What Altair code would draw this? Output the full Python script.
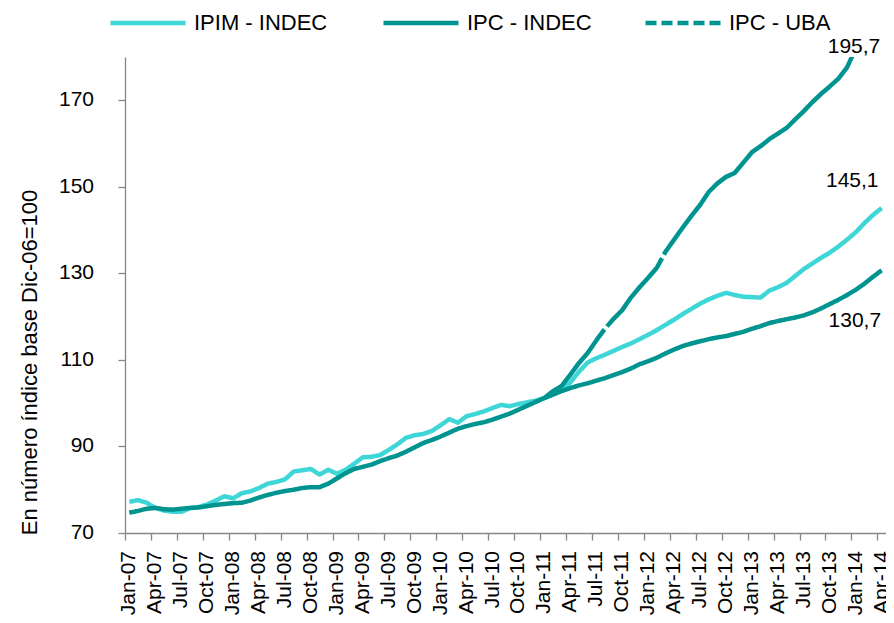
import json
import altair as alt
import pandas as pd

# ---------------- data ----------------
month_names = ["Jan", "Feb", "Mar", "Apr", "May", "Jun", "Jul", "Aug", "Sep", "Oct", "Nov", "Dec"]
years = ["07", "08", "09", "10", "11", "12", "13", "14"]
month_labels = [f"{m}-{y}" for y in years for m in month_names][:88]  # Jan-07 .. Apr-14

series_names = ["IPIM - INDEC", "IPC - INDEC", "IPC - UBA"]

ipim = [77.2, 77.6, 77.0, 75.8, 75.2, 74.9, 74.9, 75.7, 76.0, 76.6, 77.5, 78.5,
        78.0, 79.2, 79.6, 80.4, 81.4, 81.8, 82.4, 84.2, 84.5, 84.8, 83.5, 84.6,
        83.7, 84.6, 86.0, 87.5, 87.6, 88.0, 89.2, 90.5, 92.0, 92.6, 92.9, 93.6,
        94.9, 96.3, 95.5, 97.0, 97.5, 98.1, 98.9, 99.6, 99.3, 99.8, 100.2, 100.6,
        101.2, 102.0, 102.9, 104.8, 107.3, 109.4, 110.4, 111.2, 112.1, 113.0, 113.8, 114.8,
        115.8, 116.9, 118.1, 119.3, 120.6, 121.8, 123.0, 124.0, 124.8, 125.5, 125.0, 124.6,
        124.5, 124.4, 126.0, 126.8, 127.8, 129.4, 131.0, 132.3, 133.6, 134.8, 136.2, 137.8,
        139.5, 141.6, 143.5, 145.1]

ipc_indec = [74.7, 75.1, 75.6, 75.8, 75.5, 75.4, 75.6, 75.8, 75.9, 76.2, 76.5, 76.7,
             76.9, 77.0, 77.5, 78.2, 78.8, 79.3, 79.7, 80.0, 80.4, 80.6, 80.6, 81.4,
             82.6, 83.8, 84.8, 85.3, 85.8, 86.6, 87.3, 87.9, 88.8, 89.8, 90.8, 91.5,
             92.3, 93.2, 94.1, 94.7, 95.2, 95.6, 96.2, 96.9, 97.6, 98.5, 99.4, 100.3,
             101.2, 102.0, 102.8, 103.5, 104.1, 104.6, 105.2, 105.8, 106.5, 107.2, 108.0, 109.0,
             109.7, 110.5, 111.5, 112.4, 113.2, 113.8, 114.3, 114.8, 115.2, 115.5, 116.0, 116.5,
             117.2, 117.8, 118.5, 119.0, 119.4, 119.8, 120.3, 121.0, 121.9, 122.9, 123.9, 125.0,
             126.2, 127.6, 129.2, 130.7]

uba_start = 48  # Jan-11
ipc_uba = [101.2, 102.8, 104.0, 106.6, 109.3, 111.6, 114.5, 117.2, 119.5, 121.5, 124.4, 126.8,
           129.0, 131.3, 135.0, 137.8, 140.6, 143.3, 145.8, 148.8, 150.8, 152.3, 153.2, 155.6,
           158.0, 159.4, 161.0, 162.3, 163.6, 165.6, 167.5, 169.6, 171.5, 173.2, 175.0, 177.6,
           182.0, 187.0, 191.5, 195.7]

end_labels = ["195,7", "145,1", "130,7"]
end_label_idx = [83.8, 83.6, 83.9]
end_label_val = [182.4, 151.3, 119.0]

tick_values = [70, 90, 110, 130, 150, 170]
x_ticks = list(range(0, 88, 3))

# ---------------- tables ----------------
rows = []
for i, v in enumerate(ipim):
    rows.append({"idx": i, "value": v, "series": series_names[0], "dash": "a"})
for i, v in enumerate(ipc_indec):
    rows.append({"idx": i, "value": v, "series": series_names[1], "dash": "b"})
for k, v in enumerate(ipc_uba):
    rows.append({"idx": uba_start + k, "value": v, "series": series_names[2], "dash": "c"})
df = pd.DataFrame(rows)

lbl = pd.DataFrame({"idx": end_label_idx, "value": end_label_val, "text": end_labels})
ytick_df = pd.DataFrame({"value": tick_values, "text": [str(v) for v in tick_values]})
xtick_df = pd.DataFrame({"idx": x_ticks, "text": [month_labels[i] for i in x_ticks]})

FONT = "Liberation Sans"
PLOT_W, PLOT_H = 761, 476

x_scale = alt.Scale(domain=[-0.5, 87.5], nice=False, zero=False)
y_scale = alt.Scale(domain=[70, 180], nice=False, zero=False)

# axis lines + ticks (labels drawn as text layers below)
x_axis_line = alt.Axis(
    orient="bottom", values=x_ticks, labels=False, tickOffset=-4.32, tickSize=7,
    grid=False, title=None,
)
y_axis_line = alt.Axis(
    orient="left", values=tick_values, labels=False, tickSize=7, grid=False,
    title="En número índice base Dic-06=100",
    titleFontSize=22, titleFontWeight="normal", titleFont=FONT, titleColor="#000000",
    titleX=-96, titleY=305, titleAngle=270, titleAlign="center", titleBaseline="middle",
)

legend_common = dict(
    orient="none",
    direction="horizontal",
    title=None,
    symbolType="stroke",
    symbolSize=5625,
    symbolStrokeWidth=4.5,
    labelFontSize=22,
    labelFont=FONT,
    labelColor="#000000",
    labelOffset=6,
    labelLimit=400,
    padding=0,
    legendY=-74,
)

# visible lines (UBA drawn with a very long dash leaving two small gaps)
lines = alt.Chart(df).mark_line(
    strokeWidth=4.5, clip=True, strokeJoin="round"
).encode(
    x=alt.X("idx:Q", scale=x_scale, axis=x_axis_line),
    y=alt.Y("value:Q", scale=y_scale, axis=y_axis_line),
    order=alt.Order("idx:Q"),
    color=alt.Color(
        "series:N",
        scale=alt.Scale(domain=series_names, range=["#3ED6D6", "#009490", "#009490"]),
        legend=alt.Legend(
            values=series_names[:2], columns=2, columnPadding=46, legendX=-17, **legend_common
        ),
    ),
    strokeDash=alt.StrokeDash(
        "dash:N",
        scale=alt.Scale(domain=["a", "b", "c"], range=[[1, 0], [1, 0], [92, 4, 88, 4, 4000, 1]]),
        legend=None,
    ),
)

# legend provider for the dashed UBA entry (draws no line)
legend_layer = alt.Chart(df).mark_line(strokeWidth=4.5).encode(
    x=alt.X("idx:Q", scale=x_scale, axis=None),
    y=alt.Y("value:Q", scale=y_scale, axis=None),
    color=alt.Color(
        "series:N",
        scale=alt.Scale(domain=series_names[2:], range=["#009490"]),
        legend=alt.Legend(symbolDash=[11, 5], legendX=518, **legend_common),
    ),
).transform_filter("false")

# end-of-series value labels
texts = alt.Chart(lbl).mark_text(
    fontSize=21, font=FONT, color="#000000", align="center", baseline="middle"
).encode(
    x=alt.X("idx:Q", scale=x_scale, axis=None),
    y=alt.Y("value:Q", scale=y_scale, axis=None),
    text="text:N",
)

# y tick labels
ytick_text = alt.Chart(ytick_df).mark_text(
    fontSize=21, font=FONT, color="#000000", align="right", baseline="middle"
).encode(
    x=alt.value(-31),
    y=alt.Y("value:Q", scale=y_scale, axis=None),
    text="text:N",
)

# x tick labels (rotated)
xtick_text = alt.Chart(xtick_df).mark_text(
    fontSize=21, font=FONT, color="#000000", align="right", baseline="middle", angle=270
).encode(
    x=alt.X("idx:Q", scale=x_scale, axis=None),
    y=alt.value(PLOT_H + 18),
    text="text:N",
)

chart = alt.layer(lines, legend_layer, texts, ytick_text, xtick_text).resolve_scale(
    color="independent", strokeDash="independent"
).resolve_axis(
    x="independent", y="independent"
).properties(
    width=PLOT_W,
    height=PLOT_H,
    padding={"left": 117, "top": 49, "right": 0, "bottom": 90},
    autosize=alt.AutoSizeParams(type="none"),
).configure_view(
    stroke=None
).configure_axis(
    domainColor="#868686",
    tickColor="#868686",
    domainWidth=1.3,
    tickWidth=1.3,
)

chart.save("out.html", embed_options={"renderer": "svg", "actions": False})
